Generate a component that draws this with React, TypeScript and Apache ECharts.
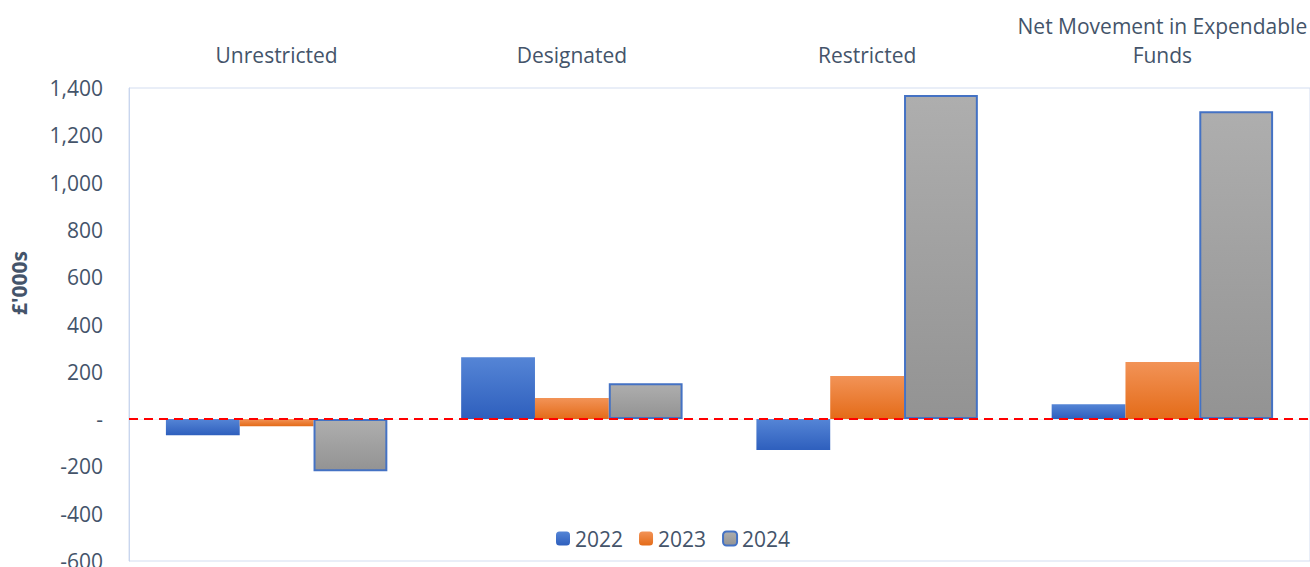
import React, { useEffect, useRef } from "react";
import * as echarts from "echarts";

const categories = ["Unrestricted", "Designated", "Restricted", "Net Movement in Expendable\nFunds"];
const seriesNames = ["2022", "2023", "2024"];
const values2022 = [-68, 262, -131, 63];
const values2023 = [-30, 89, 182, 241];
const values2024 = [-220, 152, 1370, 1302];
const yTicks = { min: -600, max: 1400, interval: 200 };
const yTitle = "£'000s";

const FONT = "'Open Sans', 'Noto Sans', sans-serif";
const TEXT = "#44546a";

const grad = (a: string, b: string) =>
  new echarts.graphic.LinearGradient(0, 0, 0, 1, [
    { offset: 0, color: a },
    { offset: 1, color: b },
  ]);

export default function App() {
  const ref = useRef<HTMLDivElement>(null);
  useEffect(() => {
    if (!ref.current) return;
    const chart = echarts.init(ref.current, undefined, { renderer: "svg" });
    chart.setOption({
      animation: false,
      backgroundColor: "#ffffff",
      textStyle: { fontFamily: FONT },
      grid: {
        left: 129,
        right: 0,
        top: 88,
        bottom: 6,
        outerBoundsMode: "none",
        containLabel: false,
        show: true,
        borderColor: "#d3ddf0",
        borderWidth: 1,
      },
      graphic: [
        {
          type: "text",
          x: 19,
          y: 283,
          rotation: Math.PI / 2,
          style: {
            text: yTitle,
            fontSize: 21,
            fontWeight: "bold",
            fill: TEXT,
            fontFamily: FONT,
            align: "center",
            verticalAlign: "middle",
          },
        },
      ],
      legend: {
        bottom: 13,
        left: 551,
        itemWidth: 14,
        itemHeight: 14,
        itemGap: 16,
        textStyle: { fontSize: 21, color: TEXT, fontFamily: FONT },
        data: seriesNames,
      },
      xAxis: {
        type: "category",
        position: "top",
        data: categories,
        axisLine: { show: true, lineStyle: { color: "#f0f2f5" } },
        axisTick: { show: false },
        axisLabel: {
          interval: 0,
          fontSize: 21,
          color: TEXT,
          margin: 19,
          lineHeight: 29,
          fontFamily: FONT,
        },
      },
      yAxis: {
        type: "value",
        min: yTicks.min,
        max: yTicks.max,
        interval: yTicks.interval,
        axisLine: { show: true, lineStyle: { color: "#c9d6ee", width: 1 } },
        axisTick: { show: false },
        splitLine: { show: false },
        axisLabel: {
          fontSize: 21,
          color: TEXT,
          margin: 26,
          fontFamily: FONT,
          formatter: (v: number) => (v === 0 ? "-" : v.toLocaleString("en-US")),
        },
      },
      series: [
        {
          name: "2022",
          type: "bar",
          data: values2022,
          barGap: "0%",
          barCategoryGap: "25%",
          itemStyle: { color: grad("#5585d6", "#2e5fbd") },
          markLine: {
            silent: true,
            symbol: "none",
            label: { show: false },
            lineStyle: { color: "#ff0000", type: [9, 6], width: 2 },
            data: [{ yAxis: 0 }],
          },
        },
        {
          name: "2023",
          type: "bar",
          data: values2023,
          barGap: "0%",
          barCategoryGap: "25%",
          itemStyle: { color: grad("#f29357", "#e46b18") },
        },
        {
          name: "2024",
          type: "bar",
          data: values2024,
          barGap: "0%",
          barCategoryGap: "25%",
          itemStyle: { color: grad("#aeaeae", "#939393"), borderColor: "#4472c4", borderWidth: 2 },
        },
      ],
    });
    return () => chart.dispose();
  }, []);
  return <div ref={ref} style={{ position: "fixed", left: 0, top: 0, width: 1310, height: 567 }} />;
}
